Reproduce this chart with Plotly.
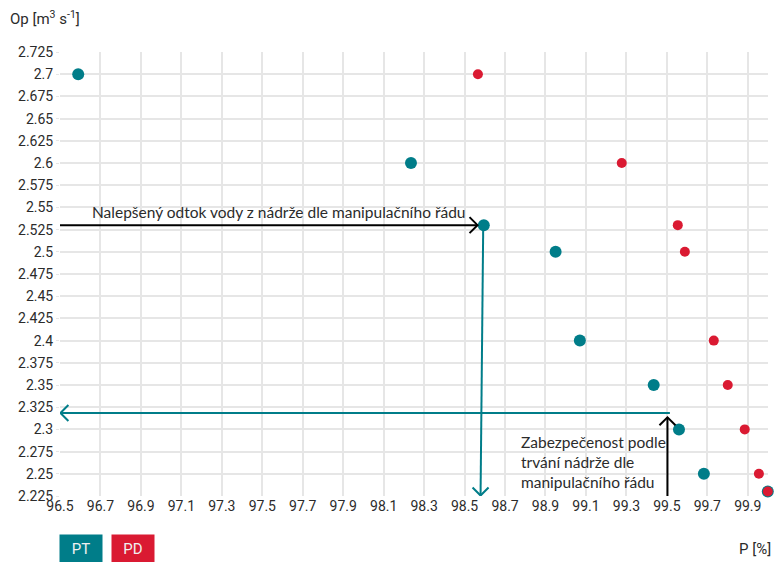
import plotly.graph_objects as go

# P [%] vs Op [m3/s] for both series
pt_p = [96.59, 98.235, 98.595, 98.95, 99.07, 99.435, 99.56, 99.683, 99.999]
pt_q = [2.7, 2.6, 2.53, 2.5, 2.4, 2.35, 2.3, 2.25, 2.23]
pd_p = [98.566, 99.277, 99.554, 99.589, 99.732, 99.801, 99.885, 99.955, 99.999]
pd_q = [2.7, 2.6, 2.53, 2.5, 2.4, 2.35, 2.3, 2.25, 2.23]

x_ticks = [96.5, 96.7, 96.9, 97.1, 97.3, 97.5, 97.7, 97.9, 98.1, 98.3,
           98.5, 98.7, 98.9, 99.1, 99.3, 99.5, 99.7, 99.9]
y_ticks = [2.225, 2.25, 2.275, 2.3, 2.325, 2.35, 2.375, 2.4, 2.425, 2.45,
           2.475, 2.5, 2.525, 2.55, 2.575, 2.6, 2.625, 2.65, 2.675, 2.7, 2.725]

# guide lines
best_q = 2.53          # black arrow to the PT point
best_p_top = 98.592    # teal drop line
best_p_bottom = 98.579
safe_p = 99.503        # black arrow up from axis
safe_q = 2.3136
teal_q = 2.3185        # teal arrow back to the y axis
teal_p_right = 99.515

TEAL = "#007D89"
RED = "#DA1A32"
DARK = "#2b2b2b"

X0, X1 = 96.5, 100.0
Y0, Y1 = 2.225, 2.725
PLOT_W, PLOT_H = 708, 444
px_x = PLOT_W / (X1 - X0)
px_y = PLOT_H / (Y1 - Y0)


def chevron(x, y, direction, a=8):
    dx = a / px_x
    dy = a / px_y
    if direction == "right":
        pts = [(x - dx, y + dy), (x, y), (x - dx, y - dy)]
    elif direction == "left":
        pts = [(x + dx, y + dy), (x, y), (x + dx, y - dy)]
    elif direction == "down":
        pts = [(x - dx, y + dy), (x, y), (x + dx, y + dy)]
    else:
        pts = [(x - dx, y - dy), (x, y), (x + dx, y - dy)]
    return "M {},{} L {},{} L {},{}".format(*[v for p in pts for v in p])


fig = go.Figure()
fig.add_trace(go.Scatter(x=pt_p, y=pt_q, mode="markers", name="PT",
                         marker=dict(color=TEAL, size=12), cliponaxis=False))
fig.add_trace(go.Scatter(x=pd_p, y=pd_q, mode="markers", name="PD",
                         marker=dict(color=RED, size=10), cliponaxis=False))

shapes = []
# black horizontal arrow
shapes.append(dict(type="line", x0=X0, x1=98.564, y0=best_q, y1=best_q,
                   line=dict(color="black", width=2)))
shapes.append(dict(type="path", path=chevron(98.564, best_q, "right"),
                   line=dict(color="black", width=2)))
# teal vertical drop
shapes.append(dict(type="line", x0=best_p_top, x1=best_p_bottom, y0=2.525, y1=Y0 + 0.0005,
                   line=dict(color=TEAL, width=2)))
shapes.append(dict(type="path", path=chevron(best_p_bottom, Y0 + 0.0005, "down"),
                   line=dict(color=TEAL, width=2)))
# teal horizontal back to axis
shapes.append(dict(type="line", x0=teal_p_right, x1=X0 + 0.002, y0=teal_q, y1=teal_q,
                   line=dict(color=TEAL, width=2)))
shapes.append(dict(type="path", path=chevron(X0 + 0.002, teal_q, "left"),
                   line=dict(color=TEAL, width=2)))
# black vertical arrow up
shapes.append(dict(type="line", x0=safe_p, x1=safe_p, y0=Y0, y1=safe_q,
                   line=dict(color="black", width=2)))
shapes.append(dict(type="path", path=chevron(safe_p, safe_q, "up"),
                   line=dict(color="black", width=2)))

fig.update_layout(
    width=774, height=562,
    margin=dict(l=60, r=6, t=52, b=66),
    paper_bgcolor="white", plot_bgcolor="white",
    showlegend=False,
    font=dict(family="Lato, sans-serif", color=DARK, size=15.5),
    shapes=shapes,
)

fig.update_xaxes(
    range=[X0, X1], tickvals=x_ticks, ticktext=[f"{v:g}" for v in x_ticks],
    showgrid=True, gridcolor="#e6e6e6", gridwidth=1.5, zeroline=False,
    showline=False, ticks="", tickfont=dict(family="Roboto", size=14, color=DARK),
)
fig.update_yaxes(
    range=[Y0, Y1], tickvals=y_ticks, ticktext=[f"{v:g}" for v in y_ticks],
    showgrid=True, gridcolor="#e6e6e6", gridwidth=1.5, zeroline=False,
    showline=False, ticks="outside", ticklen=3, tickcolor="#e6e6e6",
    tickfont=dict(family="Roboto", size=14, color=DARK),
)

# text labels
fig.add_annotation(x=-0.074, y=1.076, xref="paper", yref="paper", xanchor="left",
                   yanchor="middle", showarrow=False,
                   text="Op [m<sup>3</sup> s<sup>-1</sup>]",
                   font=dict(family="Roboto", size=15, color=DARK))
fig.add_annotation(x=1.007, y=-0.119, xref="paper", yref="paper", xanchor="right",
                   yanchor="middle", showarrow=False, text="P [%]",
                   font=dict(family="Roboto", size=15, color=DARK))
fig.add_annotation(x=96.65, y=best_q + 0.015, xanchor="left", yanchor="middle",
                   showarrow=False,
                   text="Nalepšený odtok vody z nádrže dle manipulačního řádu")
fig.add_annotation(x=98.77, y=2.263, xanchor="left", yanchor="middle", align="left",
                   showarrow=False,
                   text="Zabezpečenost podle<br>trvání nádrže dle<br>manipulačního řádu")

# legend boxes
for i, (name, col) in enumerate([("PT", TEAL), ("PD", RED)]):
    fig.add_annotation(x=-0.0014 + i * 0.0735, y=-0.0855, xref="paper", yref="paper",
                       xanchor="left", yanchor="top", showarrow=False, text=name,
                       width=42, height=27, bgcolor=col, borderpad=0,
                       font=dict(family="Roboto", size=15, color="#f0f0f0"))

fig.write_html("out.html", config={"displayModeBar": False},
               post_script="document.body.style.margin='0';")
